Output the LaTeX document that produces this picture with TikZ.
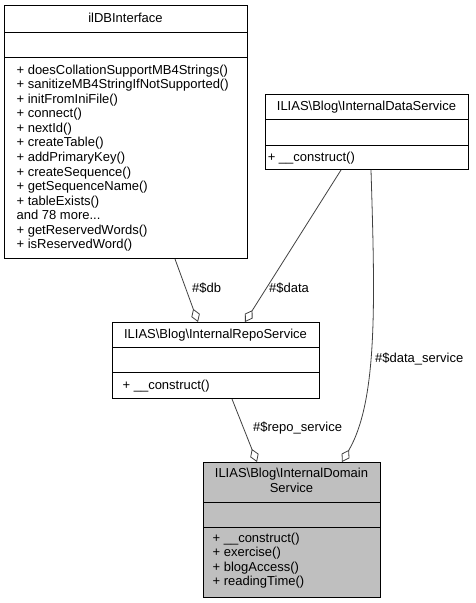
\documentclass[tikz,border=0pt]{standalone}
\usepackage{fontspec}
\setmainfont{Liberation Sans}
\usetikzlibrary{arrows.meta}
\begin{document}
\begin{tikzpicture}[x=1pt,y=-1pt,
  cls/.style={draw=black, line width=1pt, inner sep=0pt, anchor=north west},
  sep/.style={draw=black, line width=1pt},
  txt/.style={font=\fontsize{13}{14.6}\selectfont, inner sep=0pt},
  mline/.style={txt, anchor=base west},
  ttl/.style={txt, anchor=base},
  agg/.style={draw=black!75, line width=0.8pt, -{Diamond[open,length=14pt,width=9pt,line width=0.8pt]}},
  lbl/.style={txt, anchor=west}]
\useasboundingbox (0,0) rectangle (475,603);
% ilDBInterface
\node[cls, minimum width=243pt, minimum height=253pt] (db) at (4,5) {};
\draw[sep] (4,32) -- (247,32);
\draw[sep] (4,57) -- (247,57);
\node[ttl] (dbt) at (125.5,22.5) {ilDBInterface};
\foreach \t [count=\i from 0] in {+ doesCollationSupportMB4Strings(),+ sanitizeMB4StringIfNotSupported(),+ initFromIniFile(),+ connect(),+ nextId(),+ createTable(),+ addPrimaryKey(),+ createSequence(),+ getSequenceName(),+ tableExists()}
  \node[mline] (dbm\i) at (16.4,74+14.58*\i) {\t};
\node[mline] (dbm10) at (16.4,74+14.58*10) {and 78 more.{}.{}.};
\node[mline] (dbm11) at (16.4,74+14.58*11) {+ getReservedWords()};
\node[mline] (dbm12) at (16.4,74+14.58*12) {+ isReservedWord()};
% InternalDataService
\node[cls, minimum width=203pt, minimum height=75pt] (data) at (265,94) {};
\draw[sep] (265,119) -- (468,119);
\draw[sep] (265,145) -- (468,145);
\node[ttl] (datat) at (366.5,110.5) {ILIAS\textbackslash Blog\textbackslash InternalDataService};
\node[mline] (datam) at (267.6,161) {+ \_\_construct()};
% InternalRepoService
\node[cls, minimum width=207pt, minimum height=76pt] (repo) at (112,322) {};
\draw[sep] (112,347) -- (319,347);
\draw[sep] (112,372) -- (319,372);
\node[ttl] (repot) at (215.5,338.5) {ILIAS\textbackslash Blog\textbackslash InternalRepoService};
\node[mline] (repom) at (122.4,389) {+ \_\_construct()};
% InternalDomainService
\node[cls, fill=gray!50, minimum width=177pt, minimum height=135pt] (dom) at (203,462) {};
\draw[sep] (203,502) -- (380,502);
\draw[sep] (203,527) -- (380,527);
\node[ttl] (domt1) at (291.5,477) {ILIAS\textbackslash Blog\textbackslash InternalDomain};
\node[ttl] (domt2) at (291.5,492) {Service};
\foreach \t [count=\i from 0] in {+ \_\_construct(),+ exercise(),+ blogAccess(),+ readingTime()}
  \node[mline] (domm\i) at (212.4,542+14.6*\i) {\t};
% connectors
\draw[agg] ([xshift=171pt]db.south west) -- ([xshift=86pt]repo.north west);
\draw[agg] ([xshift=76pt]data.south west) -- ([xshift=133pt]repo.north west);
\draw[agg] ([xshift=120pt]repo.south west) -- ([xshift=54pt]dom.north west);
\draw[agg] ([xshift=106pt]data.south west) .. controls (375,300) and (378,400) .. ([xshift=139pt]dom.north west);
% labels
\node[lbl] (l1) at (192,288) {\#\$db};
\node[lbl] (l2) at (269,288) {\#\$data};
\node[lbl] (l3) at (253,428) {\#\$repo\_service};
\node[lbl] (l4) at (375,359) {\#\$data\_service};
\end{tikzpicture}
\end{document}
